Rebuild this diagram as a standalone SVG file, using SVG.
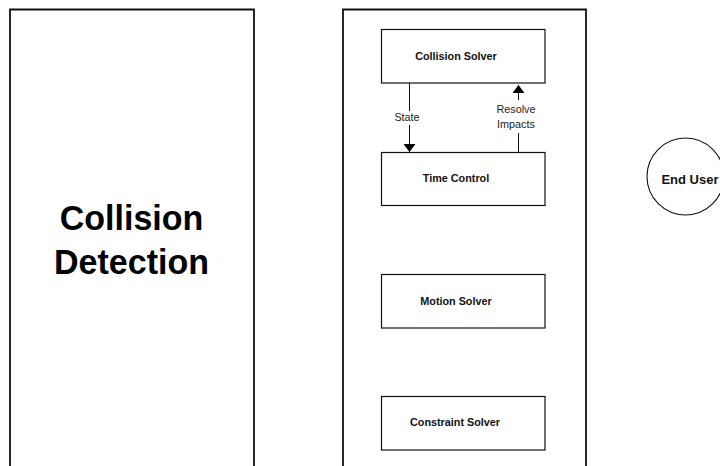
<svg xmlns="http://www.w3.org/2000/svg" width="720" height="466" viewBox="0 0 720 466">
  <style>
    .frame { fill: none; stroke: #111; stroke-width: 1.8; }
    .box { fill: #fff; stroke: #111; stroke-width: 1.2; }
    .wire { fill: none; stroke: #111; stroke-width: 1; }
    .lbl { font-family: "Liberation Sans", Arial, sans-serif; font-weight: bold; font-size: 10.8px; fill: #111; text-anchor: middle; }
    .small { font-family: "Liberation Sans", Arial, sans-serif; font-size: 10.8px; fill: #222; text-anchor: middle; }
    .big { font-family: "Liberation Sans", Arial, sans-serif; font-weight: bold; font-size: 34px; fill: #000; text-anchor: middle; }
  </style>
  <defs>
    <marker id="head" viewBox="0 0 8 12" refX="8" refY="6" markerWidth="8" markerHeight="12" markerUnits="userSpaceOnUse" orient="auto">
      <path d="M0,0 L8,6 L0,12 Z" fill="#000"/>
    </marker>
  </defs>
  <rect width="720" height="466" fill="#fff"/>

  <g id="collision-detection">
    <path class="frame" d="M10,470 V9.5 H254 V470"/>
    <text class="big" transform="translate(131.5,229.5) scale(1,1.05)">Collision</text>
    <text class="big" transform="translate(131.5,273.5) scale(1,1.05)">Detection</text>
  </g>

  <g id="dynamics-engine">
    <path class="frame" d="M343,470 V9.5 H586 V470"/>
  </g>

  <g id="collision-solver">
    <rect class="box" x="381.5" y="29.5" width="163.5" height="53.5"/>
    <text class="lbl" x="456" y="60">Collision Solver</text>
  </g>

  <g id="time-control">
    <rect class="box" x="381.5" y="152.5" width="163.5" height="53"/>
    <text class="lbl" x="456" y="182">Time Control</text>
  </g>

  <g id="motion-solver">
    <rect class="box" x="381.5" y="274.5" width="163.5" height="53.5"/>
    <text class="lbl" x="456" y="305">Motion Solver</text>
  </g>

  <g id="constraint-solver">
    <rect class="box" x="381.5" y="396.5" width="163.5" height="53.5"/>
    <text class="lbl" x="455" y="426">Constraint Solver</text>
  </g>

  <g id="end-user">
    <circle cx="685.5" cy="176.5" r="38.5" fill="#fff" stroke="#111" stroke-width="1.1"/>
    <text class="lbl" x="690" y="184" style="font-size:13px">End User</text>
  </g>

  <g id="connectors">
    <!-- State: Collision Solver -> Time Control -->
    <path class="wire" d="M409.5,83 V111 M409.5,125 V152" marker-end="url(#head)"/>
    <text class="small" x="407" y="121">State</text>
    <!-- Resolve Impacts: Time Control -> Collision Solver -->
    <path class="wire" d="M518.5,152 V133"/>
    <path class="wire" d="M518.5,100 V85" marker-end="url(#head)"/>
    <text class="small" x="516" y="113">Resolve</text>
    <text class="small" x="516" y="128">Impacts</text>
  </g>
</svg>
